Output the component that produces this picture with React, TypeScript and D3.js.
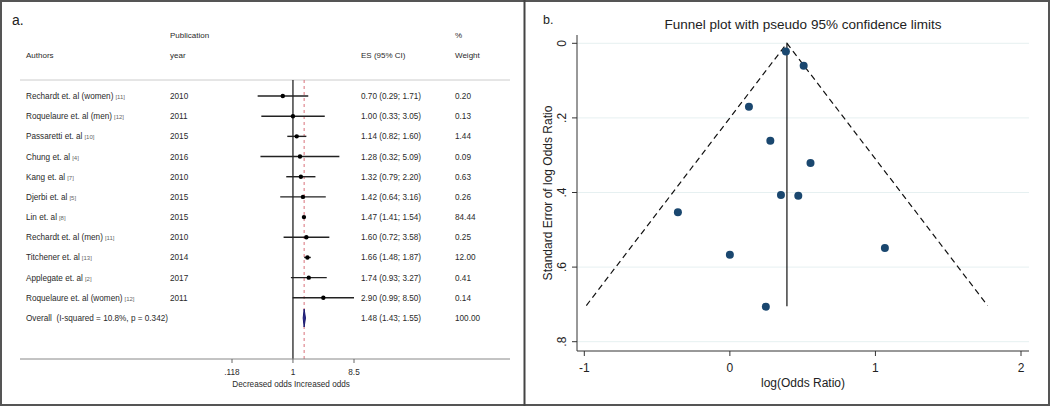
import React from "react";
import * as d3 from "d3";

const authors = [
  "Rechardt et. al (women)",
  "Roquelaure et. al (men)",
  "Passaretti et. al",
  "Chung et. al",
  "Kang et. al",
  "Djerbi et. al",
  "Lin et. al",
  "Rechardt et. al (men)",
  "Titchener et. al",
  "Applegate et. al",
  "Roquelaure et. al (women)",
];
const refs = ["[11]", "[12]", "[10]", "[4]", "[7]", "[5]", "[8]", "[11]", "[13]", "[2]", "[12]"];
const years = ["2010", "2011", "2015", "2016", "2010", "2015", "2015", "2010", "2014", "2017", "2011"];
const es = [0.7, 1.0, 1.14, 1.28, 1.32, 1.42, 1.47, 1.6, 1.66, 1.74, 2.9];
const lower = [0.29, 0.33, 0.82, 0.32, 0.79, 0.64, 1.41, 0.72, 1.48, 0.93, 0.99];
const upper = [1.71, 3.05, 1.6, 5.09, 2.2, 3.16, 1.54, 3.58, 1.87, 3.27, 8.5];
const weights = ["0.20", "0.13", "1.44", "0.09", "0.63", "0.26", "84.44", "0.25", "12.00", "0.41", "0.14"];
const overallLabel = "Overall\u00a0\u00a0(I-squared = 10.8%, p = 0.342)";
const overall = { es: 1.48, lower: 1.43, upper: 1.55, weight: "100.00" };
const forestTicks = [0.118, 1, 8.5];
const forestTickLabels = [".118", "1", "8.5"];

// funnel plot
const funnelLogOR = [-0.357, 0, 0.131, 0.247, 0.278, 0.351, 0.385, 0.47, 0.507, 0.554, 1.065];
const funnelSE = [0.453, 0.567, 0.17, 0.706, 0.261, 0.407, 0.022, 0.409, 0.06, 0.321, 0.549];
const pooledLogOR = 0.392;
const funnelBottomSE = 0.703;
const funnelLeftX = -0.986;
const funnelRightX = 1.77;
const funnelXTicks = [-1, 0, 1, 2];
const funnelYTicks = [0, 0.2, 0.4, 0.6, 0.8];
const funnelYTickLabels = ["0", ".2", ".4", ".6", ".8"];

const fmt = (v: number) => v.toFixed(2);

export default function App() {
  const font = "Liberation Sans, Arial, sans-serif";
  // forest scales
  const fx = d3.scaleLog().domain([0.118, 8.5]).range([232, 354]);
  const fy = d3.scaleLinear().domain([0, 11]).range([96, 318]);
  // funnel scales
  const gx = d3.scaleLinear().domain([-1, 2]).range([584.3, 1021]);
  const gy = d3.scaleLinear().domain([0, 0.8]).range([43.3, 341.7]);

  const txt = "#2a2a2a";
  const diamond = [
    [fx(overall.lower), fy(11)],
    [fx(overall.es), fy(11) - 9],
    [fx(overall.upper), fy(11)],
    [fx(overall.es), fy(11) + 9],
  ];
  const lineGen = d3.line();

  return (
    <svg
      width={1050}
      height={406}
      style={{ position: "absolute", left: 0, top: 0, background: "#fff" }}
      fontFamily={font}
    >
      <rect x={1} y={1} width={1048} height={404} fill="#fff" stroke="#555" strokeWidth={2} />
      <line x1={524.5} x2={524.5} y1={0} y2={406} stroke="#444" strokeWidth={2} />

      {/* ---------- Panel a ---------- */}
      <text x={12} y={25} fontSize={14} fill="#222">a.</text>
      <g fontSize={8} fill={txt}>
        <text x={170} y={38}>Publication</text>
        <text x={455} y={38}>%</text>
        <text x={26} y={58}>Authors</text>
        <text x={170} y={58}>year</text>
        <text x={361} y={58}>ES (95% CI)</text>
        <text x={455} y={58}>Weight</text>
      </g>
      <line x1={20} x2={510} y1={80} y2={80} stroke="#ccc" strokeWidth={1} />
      <line x1={fx(1)} x2={fx(1)} y1={80} y2={359} stroke="#111" strokeWidth={1.2} />
      <line
        x1={fx(overall.es)}
        x2={fx(overall.es)}
        y1={80}
        y2={359}
        stroke="#d9707a"
        strokeWidth={1}
        strokeDasharray="3,3"
      />
      {authors.map((a, i) => (
        <g key={i}>
          <text x={26} y={fy(i) + 3} fontSize={8.2} fill={txt}>
            {a}
            <tspan fontSize={6} fill="#666" dx={2}>{refs[i]}</tspan>
          </text>
          <text x={170} y={fy(i) + 3} fontSize={8.2} fill={txt}>{years[i]}</text>
          <text x={361} y={fy(i) + 3} fontSize={8.2} fill={txt}>
            {`${fmt(es[i])} (${fmt(lower[i])}; ${fmt(upper[i])})`}
          </text>
          <text x={455} y={fy(i) + 3} fontSize={8.2} fill={txt}>{weights[i]}</text>
          <line x1={fx(lower[i])} x2={fx(upper[i])} y1={fy(i)} y2={fy(i)} stroke="#222" strokeWidth={1.4} />
          <circle cx={fx(es[i])} cy={fy(i)} r={2.2} fill="#000" />
        </g>
      ))}
      <text x={26} y={fy(11) + 3} fontSize={8.2} fill={txt}>{overallLabel}</text>
      <text x={361} y={fy(11) + 3} fontSize={8.2} fill={txt}>
        {`${fmt(overall.es)} (${fmt(overall.lower)}; ${fmt(overall.upper)})`}
      </text>
      <text x={455} y={fy(11) + 3} fontSize={8.2} fill={txt}>{overall.weight}</text>
      <path d={lineGen(diamond as [number, number][]) + "Z"} fill="#2a2a8a" stroke="#1a1a70" strokeWidth={1} />
      <line x1={20} x2={510} y1={359} y2={359} stroke="#888" strokeWidth={1} />
      {forestTicks.map((t, i) => (
        <g key={t}>
          <line x1={fx(t)} x2={fx(t)} y1={359} y2={363} stroke="#666" strokeWidth={1} />
          <text x={fx(t)} y={375} fontSize={8.2} fill={txt} textAnchor="middle">{forestTickLabels[i]}</text>
        </g>
      ))}
      <text x={fx(1) - 1} y={387} fontSize={8.2} fill={txt} textAnchor="end">Decreased odds</text>
      <text x={fx(1) + 1} y={387} fontSize={8.2} fill={txt}>Increased odds</text>

      {/* ---------- Panel b ---------- */}
      <text x={543} y={24} fontSize={12.5} fill="#222">b.</text>
      <text x={803} y={29} fontSize={13.5} fill="#222" textAnchor="middle">
        Funnel plot with pseudo 95% confidence limits
      </text>
      {funnelYTicks.map((t, i) => (
        <g key={t}>
          <line x1={577} x2={1029} y1={gy(t)} y2={gy(t)} stroke="#e6f0f1" strokeWidth={1} />
          <line x1={572} x2={577} y1={gy(t)} y2={gy(t)} stroke="#333" strokeWidth={1} />
          <text
            transform={`translate(${566},${gy(t)}) rotate(-90)`}
            fontSize={12}
            fill="#222"
            textAnchor="middle"
          >
            {funnelYTickLabels[i]}
          </text>
        </g>
      ))}
      <line x1={577} x2={577} y1={35} y2={351} stroke="#333" strokeWidth={1} />
      <line x1={577} x2={1029} y1={351} y2={351} stroke="#333" strokeWidth={1} />
      {funnelXTicks.map((t) => (
        <g key={t}>
          <line x1={gx(t)} x2={gx(t)} y1={351} y2={356} stroke="#333" strokeWidth={1} />
          <text x={gx(t)} y={372} fontSize={12} fill="#222" textAnchor="middle">{String(t)}</text>
        </g>
      ))}
      <text x={803} y={387} fontSize={12} fill="#222" textAnchor="middle">log(Odds Ratio)</text>
      <text
        transform={`translate(${552},${193}) rotate(-90)`}
        fontSize={12}
        fill="#222"
        textAnchor="middle"
      >
        Standard Error of log Odds Ratio
      </text>
      <path
        d={
          lineGen([
            [gx(funnelLeftX), gy(funnelBottomSE)],
            [gx(pooledLogOR), gy(0)],
            [gx(funnelRightX), gy(funnelBottomSE)],
          ]) || ""
        }
        fill="none"
        stroke="#111"
        strokeWidth={1.2}
        strokeDasharray="6,4"
      />
      <line
        x1={gx(pooledLogOR)}
        x2={gx(pooledLogOR)}
        y1={gy(0)}
        y2={gy(0.705)}
        stroke="#111"
        strokeWidth={1.2}
      />
      {funnelLogOR.map((v, i) => (
        <circle key={i} cx={gx(v)} cy={gy(funnelSE[i])} r={4} fill="#1a476f" />
      ))}
    </svg>
  );
}
